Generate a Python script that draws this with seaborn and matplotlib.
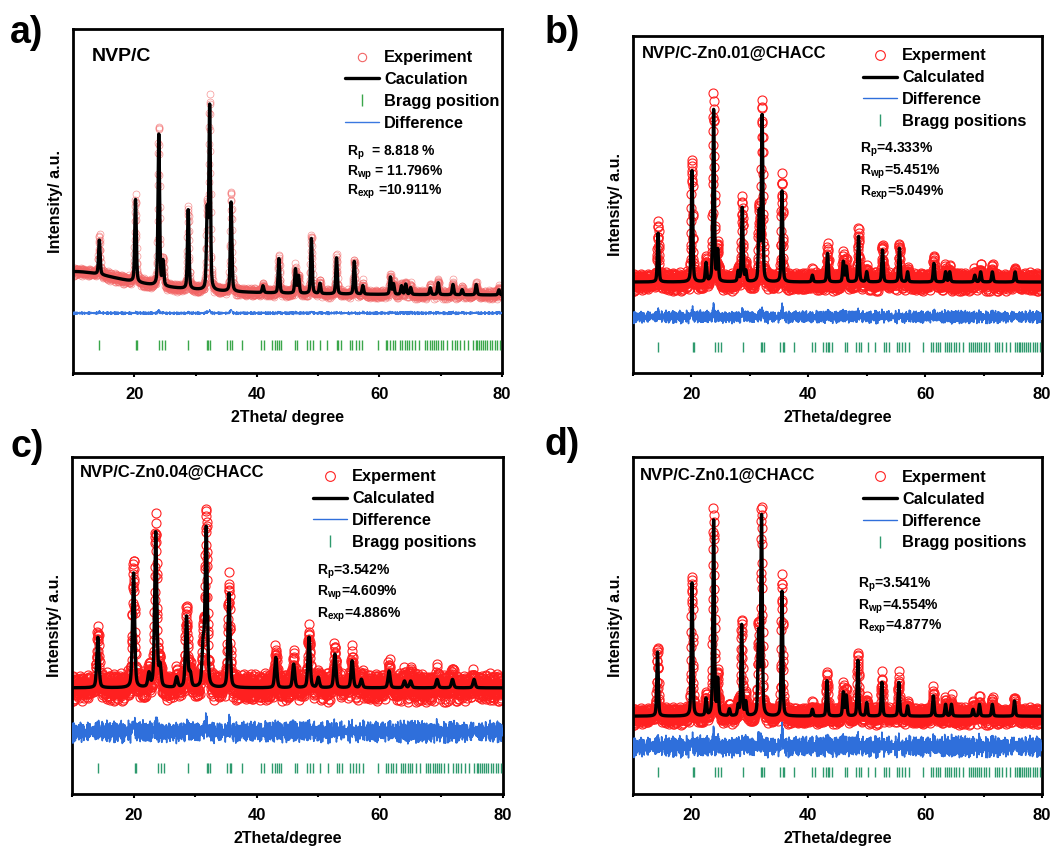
import numpy as np
import matplotlib
matplotlib.use("Agg")
import matplotlib.pyplot as plt
import seaborn as sns
from matplotlib.lines import Line2D

# ---------------- data ----------------
TT_MIN, TT_MAX, TT_STEP = 10.0, 80.0, 0.025

# Bragg reflection positions (2theta, deg)
BRAGG = [14.3, 20.2, 20.4, 24.0, 24.5, 25.0, 28.8, 31.9, 32.1, 32.4, 35.2, 35.6,
         35.9, 37.6, 40.7, 41.2, 42.5, 43.0, 43.3, 43.6, 44.0, 46.2, 46.6, 48.2,
         48.7, 49.1, 50.3, 51.5, 53.0, 53.3, 53.8, 55.2, 55.6, 56.1, 56.6, 57.2,
         59.7, 61.0, 61.3, 61.8, 62.2, 62.6, 63.4, 63.7, 64.1, 64.5, 64.9, 65.3,
         65.8, 66.5, 67.5, 67.8, 68.2, 68.6, 68.9, 69.3, 69.6, 70.0, 70.4, 71.0,
         71.9, 72.3, 72.7, 73.2, 73.8, 74.5, 75.3, 75.7, 76.0, 76.3, 76.6, 76.9,
         77.3, 77.6, 78.0, 78.4, 78.8, 79.2, 79.6]

# residual pattern values (typed), used for observed scatter
RES_A = [0.3, -0.7, 0.9, -0.2, -0.9, 0.5, 0.1, -0.4, 0.8, -1.0, 0.2, 0.6, -0.5,
         -0.1, 0.95, -0.8, 0.4, -0.3, 0.7, -0.6, 0.0, 0.85, -0.95, 0.25, -0.45,
         0.65, -0.15, 0.55, -0.75, 0.35, -0.05, 0.75, -0.85, 0.15, -0.55, 0.45,
         -0.35, 1.0, -0.65, 0.05, -0.25, 0.6, -0.9, 0.2, 0.8, -0.4, -0.7, 0.5,
         -0.1, 0.9, -0.6, 0.3, -0.2]
RES_B = [-0.5, 0.8, -0.1, 0.4, -0.9, 0.6, -0.3, 0.0, 0.7, -0.8, 0.3, -0.6, 0.9,
         -0.2, 0.5, -0.7, 0.1, 0.6, -0.4, 0.95, -1.0, 0.2, -0.5, 0.75, -0.15,
         0.45, -0.85, 0.35, -0.05, 0.65, -0.95, 0.25, 0.55, -0.35, 0.85, -0.65,
         0.15, -0.45, 1.0, -0.75, 0.05, -0.25, 0.7, -0.55, 0.4, -0.9, 0.3]

# Panel a: NVP/C
A_POS = [14.3, 20.2, 24.0, 24.7, 28.8, 31.9, 32.3, 35.8, 41.0, 43.6, 46.3, 46.8,
         48.9, 50.3, 53.0, 55.9, 57.3, 61.8, 62.3, 63.6, 64.3, 65.1, 68.3, 69.6,
         72.0, 73.5, 75.8, 79.5]
A_HCALC = [10, 24, 44, 7, 23, 22, 53, 26, 2, 10, 7, 5, 16, 3, 10.5, 9.5, 2.5, 5, 3,
           2.5, 3, 2, 2, 3.5, 3, 1.5, 3, 1.5]
A_HOBS = [11, 24.5, 46, 7.5, 23.5, 23, 55, 29, 2.5, 10.5, 7.5, 5, 17, 3.5, 11, 10,
          3, 5.5, 3.5, 3, 3.5, 2.5, 2.5, 4, 3.5, 2, 3.5, 2]

# Panel b: NVP/C-Zn0.01@CHACC
B_POS = [14.3, 20.1, 22.5, 23.8, 24.5, 28.0, 28.7, 29.3, 31.6, 32.1, 35.5, 40.7,
         43.3, 46.0, 46.5, 48.6, 50.0, 52.7, 55.6, 57.0, 61.5, 63.5, 64.2, 68.5,
         69.5, 71.5, 75.4]
B_HCALC = [14.5, 33, 5.5, 51, 9, 3, 22, 3, 20, 49, 27, 2, 8.5, 6, 4.5, 13.5, 3,
           9.5, 10, 3, 5.5, 3, 3, 2, 3, 3, 3]
B_HOBS = [16, 36, 6, 54, 10, 3, 24, 3.5, 21, 52, 30, 2, 9.5, 7, 5, 15, 3.5, 10.5,
          11, 3.5, 6.5, 3.5, 3.5, 2.5, 3.5, 3.5, 3.5]

# Panel c: NVP/C-Zn0.04@CHACC
C_POS = [14.2, 20.0, 22.5, 23.6, 24.3, 27.0, 28.6, 29.2, 31.3, 31.8, 35.5, 43.1,
         46.0, 48.5, 50.0, 52.7, 55.5, 57.0, 61.5, 64.0, 65.0, 69.3, 71.8, 75.3]
C_HCALC = [15, 34, 4, 46, 6, 3, 21, 4, 12, 47, 28, 9, 7, 15, 3, 10, 8, 2.5, 5, 2, 2,
           2.5, 2.5, 2.5]
C_HOBS = [16, 37, 4, 48, 6, 3, 23, 4, 13, 50, 30, 10, 8, 16, 3, 11, 9, 3, 5.5, 2.5,
          2.5, 3, 3, 3]

# Panel d: NVP/C-Zn0.1@CHACC
D_POS = [14.2, 20.1, 22.5, 23.8, 24.5, 26.5, 28.0, 28.6, 29.3, 31.5, 32.0, 35.5,
         40.7, 43.2, 46.0, 46.5, 48.5, 50.0, 52.6, 55.5, 57.0, 61.4, 63.5, 64.5,
         68.2, 69.3, 71.5, 75.3]
D_HCALC = [19, 39.5, 5, 58, 10.5, 2, 3, 27, 4, 24, 59, 37, 2, 10.5, 7, 6, 16.5, 4,
           10, 10, 3, 6, 3.5, 3.5, 2, 3.5, 3.5, 4.5]
D_HOBS = [20, 41, 5.5, 60, 12, 2, 3.5, 28, 5, 26, 61, 40, 2.5, 12, 8, 6.5, 18, 4.5,
          11, 11, 3.5, 7, 4, 4, 2.5, 4, 4, 5]

PANELS = [
    dict(letter="a)", title="NVP/C", pos=A_POS, hc=A_HCALC, ho=A_HOBS,
         fwhm=0.30, base=22.5, hump=7.0, noise=1.4, diff_base=17.4, diff_k=0.35,
         bragg=(6.7, 9.6),
         labels=["Experiment", "Caculation", "Bragg position", "Difference"],
         rtext=[r"R$_{p}$  = 8.818 %", r"R$_{wp}$ = 11.796%", r"R$_{exp}$ =10.911%"],
         xlabel="2Theta/ degree"),
    dict(letter="b)", title="NVP/C-Zn0.01@CHACC", pos=B_POS, hc=B_HCALC, ho=B_HOBS,
         fwhm=0.30, base=27.0, hump=0.0, noise=3.0, diff_base=16.6, diff_k=0.7,
         bragg=(6.2, 9.2),
         labels=["Experment", "Calculated", "Difference", "Bragg positions"],
         rtext=[r"R$_{p}$=4.333%", r"R$_{wp}$=5.451%", r"R$_{exp}$=5.049%"],
         xlabel="2Theta/degree"),
    dict(letter="c)", title="NVP/C-Zn0.04@CHACC", pos=C_POS, hc=C_HCALC, ho=C_HOBS,
         fwhm=0.42, base=31.5, hump=0.0, noise=4.5, diff_base=18.4, diff_k=0.8,
         bragg=(6.2, 9.2),
         labels=["Experment", "Calculated", "Difference", "Bragg positions"],
         rtext=[r"R$_{p}$=3.542%", r"R$_{wp}$=4.609%", r"R$_{exp}$=4.886%"],
         xlabel="2Theta/degree"),
    dict(letter="d)", title="NVP/C-Zn0.1@CHACC", pos=D_POS, hc=D_HCALC, ho=D_HOBS,
         fwhm=0.30, base=23.1, hump=0.0, noise=2.8, diff_base=14.0, diff_k=1.25,
         bragg=(5.0, 8.0),
         labels=["Experment", "Calculated", "Difference", "Bragg positions"],
         rtext=[r"R$_{p}$=3.541%", r"R$_{wp}$=4.554%", r"R$_{exp}$=4.877%"],
         xlabel="2Theta/degree"),
]

# layout (pixels in a 1062x846 canvas)
W, H = 1062, 846
AX_BOX = [(73, 29, 502, 373), (633, 36, 1042, 373), (72, 457, 503, 794), (633, 457, 1042, 794)]
LETTER_XY = [(27, 33), (562, 33), (27, 447), (562, 445)]
TITLE_XY = [(0.044, 0.919), (0.022, 0.947), (0.019, 0.953), (0.017, 0.944)]
R_XY = [(0.639, [0.640, 0.581, 0.526]), (0.555, [0.662, 0.596, 0.534]),
        (0.568, [0.659, 0.596, 0.531]), (0.550, [0.620, 0.555, 0.496])]
LEG_XY = [(0.634, 0.938), (0.562, 0.963), (0.559, 0.963), (0.562, 0.962)]

# ---------------- style ----------------
sns.set_theme(style="ticks")
plt.rcParams["font.family"] = ["Liberation Sans", "DejaVu Sans"]
plt.rcParams["font.weight"] = "bold"
plt.rcParams["text.color"] = "black"
plt.rcParams["axes.labelcolor"] = "black"
plt.rcParams["xtick.color"] = "black"
plt.rcParams["ytick.color"] = "black"
plt.rcParams["mathtext.default"] = "bf"
plt.rcParams["mathtext.fontset"] = "custom"
plt.rcParams["mathtext.bf"] = "Liberation Sans:bold"
plt.rcParams["mathtext.rm"] = "Liberation Sans"


def profile(tt, pos, heights, fwhm):
    """pseudo-Voigt sum of the listed reflections"""
    y = np.zeros_like(tt)
    for p, h in zip(pos, heights):
        d = (tt - p) / (fwhm / 2.0)
        g = np.exp(-np.log(2) * d ** 2)
        lo = 1.0 / (1.0 + d ** 2)
        y += h * (0.6 * g + 0.4 * lo)
    return y


tt = np.arange(TT_MIN, TT_MAX + TT_STEP / 2, TT_STEP)
idx = np.arange(tt.size)
res = (np.array(RES_A)[idx % len(RES_A)] + np.array(RES_B)[idx % len(RES_B)]) / 2.0

fig = plt.figure(figsize=(W / 100, H / 100), dpi=100)

for i, P in enumerate(PANELS):
    l, t, r, b = AX_BOX[i]
    ax = fig.add_axes([l / W, 1 - b / H, (r - l) / W, (b - t) / H])

    bg = P["base"] + P["hump"] / (1.0 + ((tt - 10.0) / 11.5) ** 2)
    calc = bg + profile(tt, P["pos"], P["hc"], P["fwhm"])
    obs_clean = bg + profile(tt, P["pos"], P["ho"], P["fwhm"])
    obs = obs_clean + P["noise"] * res * np.sqrt(1 + (obs_clean - bg) / 120.0)
    diff = P["diff_base"] + P["diff_k"] * (obs - calc)

    light = (i == 0)
    red = "#f26666" if light else "#ff2020"
    green = "#3aa64a" if light else "#2e9a6e"
    blue = "#3a78e0" if light else "#2f6fdb"

    sns.lineplot(x=tt, y=obs, ax=ax, marker="o", linestyle="", mfc="none",
                 mec=red, ms=5.0 if light else 6.5, mew=0.5 if light else 0.8,
                 alpha=0.7 if light else 1.0,
                 estimator=None, sort=False, legend=False, zorder=2)
    sns.lineplot(x=tt, y=calc, ax=ax, color="black", lw=2.4, estimator=None,
                 sort=False, legend=False, zorder=3)
    sns.lineplot(x=tt, y=diff, ax=ax, color=blue, lw=0.8 if light else 1.1,
                 estimator=None, sort=False, legend=False, zorder=3)
    ax.vlines(BRAGG, P["bragg"][0], P["bragg"][1], color=green, lw=1.0, zorder=3)

    ax.set_xlim(10, 80)
    ax.set_ylim(0, 100)
    ax.set_xticks([20, 40, 60, 80])
    ax.set_xticks([10, 30, 50, 70], minor=True)
    ax.set_yticks([])
    ax.tick_params(axis="x", which="major", direction="out", length=3, width=1.5,
                   labelsize=12, pad=7, colors="black")
    ax.tick_params(axis="x", which="minor", direction="out", length=2, width=1.5,
                   colors="black")
    for lab in ax.get_xticklabels():
        lab.set_fontweight("bold")
    for s in ax.spines.values():
        s.set_visible(True)
        s.set_linewidth(2.0)
        s.set_color("black")
    ax.set_xlabel(P["xlabel"], fontsize=11.5, fontweight="bold", labelpad=6,
                  color="black")
    ax.set_ylabel("Intensity/ a.u.", fontsize=11.5, fontweight="bold", labelpad=7,
                  color="black")

    ax.text(TITLE_XY[i][0], TITLE_XY[i][1], P["title"], transform=ax.transAxes,
            fontsize=14 if light else 12, fontweight="bold", ha="left", va="center",
            color="black")
    rx, rys = R_XY[i]
    for txt, ry in zip(P["rtext"], rys):
        ax.text(rx, ry, txt, transform=ax.transAxes, fontsize=10, fontweight="bold",
                ha="left", va="center", color="black")

    h_obs = Line2D([], [], marker="o", ls="", mfc="none", mec=red, ms=6 if light else 7,
                   mew=0.8)
    h_calc = Line2D([], [], color="black", lw=2.4)
    h_diff = Line2D([], [], color=blue, lw=1.0)
    h_bragg = Line2D([], [], marker="|", ls="", color=green, ms=9, mew=1.0)
    if light:
        handles = [h_obs, h_calc, h_bragg, h_diff]
    else:
        handles = [h_obs, h_calc, h_diff, h_bragg]
    leg = ax.legend(handles, P["labels"], loc="upper left",
                    bbox_to_anchor=LEG_XY[i], bbox_transform=ax.transAxes,
                    frameon=False, fontsize=11.8, handlelength=2.1,
                    handletextpad=0.3, labelspacing=0.42, borderpad=0,
                    borderaxespad=0)
    for tx in leg.get_texts():
        tx.set_fontweight("bold")
        tx.set_color("black")

    lx, ly = LETTER_XY[i]
    fig.text(lx / W, 1 - ly / H, P["letter"], fontsize=27, fontweight="bold",
             ha="center", va="center", color="black")

fig.savefig("out.png", dpi=100)
